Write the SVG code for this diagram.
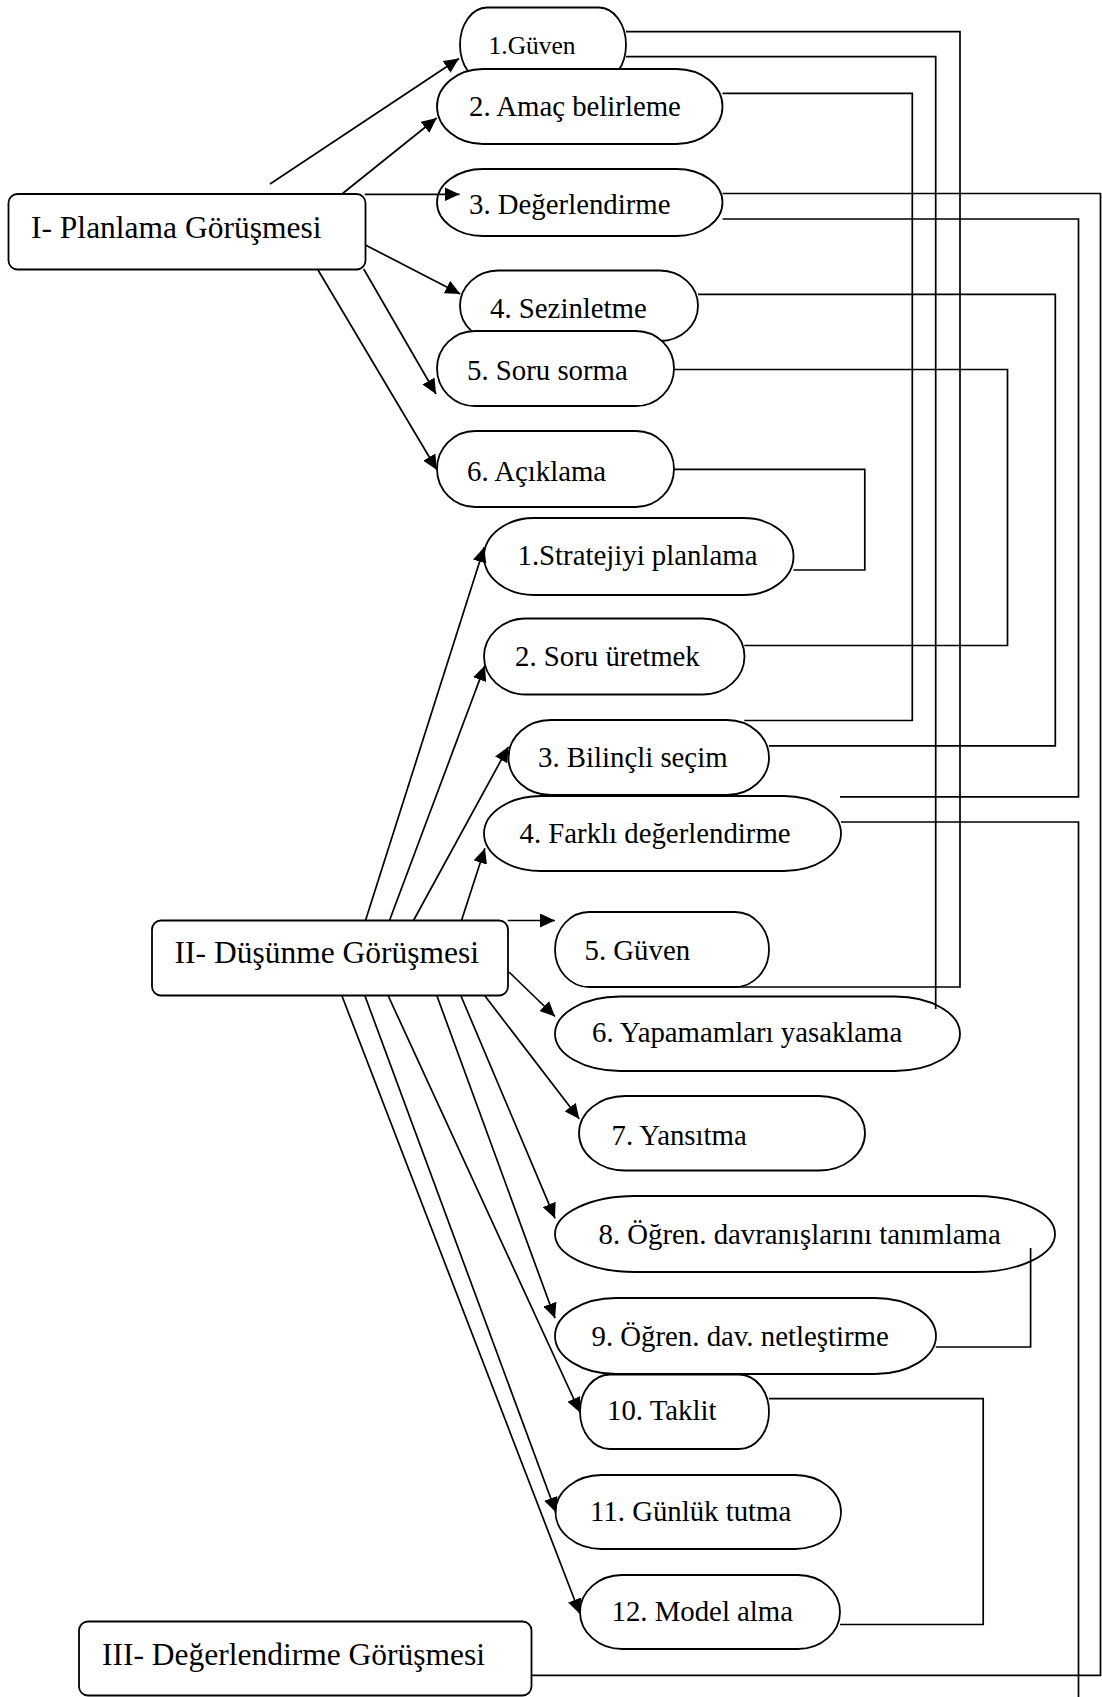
<svg xmlns="http://www.w3.org/2000/svg" width="1102" height="1697" viewBox="0 0 1102 1697">
  <defs>
    <style>
      .node { fill: #ffffff; stroke: #000000; stroke-width: 1.8; }
      .box { fill: #ffffff; stroke: #000000; stroke-width: 1.8; }
      .lbl { font-family: "Liberation Serif", "Times New Roman", serif; font-size: 28.8px; fill: #000000; }
      .big { font-family: "Liberation Serif", "Times New Roman", serif; font-size: 31.5px; fill: #000000; }
      .arrow { fill: none; stroke: #000000; stroke-width: 1.7; marker-end: url(#ah); }
      .link { fill: none; stroke: #000000; stroke-width: 1.7; }
    </style>
    <marker id="ah" viewBox="0 0 15 14" refX="15" refY="7" markerWidth="15" markerHeight="14" markerUnits="userSpaceOnUse" orient="auto">
      <path d="M0,0 L15,7 L0,14 z" fill="#000000"/>
    </marker>
  </defs>

  <rect x="0" y="0" width="1102" height="1697" fill="#ffffff"/>

  <!-- stage boxes -->
  <g id="planlama">
    <rect class="box" x="8.5" y="194" width="357" height="75.5" rx="9"/>
    <text class="big" x="31" y="237.5">I- Planlama Görüşmesi</text>
  </g>
  <g id="dusunme">
    <rect class="box" x="152" y="920.5" width="356" height="75" rx="9"/>
    <text class="big" x="174.6" y="962.5">II- Düşünme Görüşmesi</text>
  </g>
  <g id="degerlendirme">
    <rect class="box" x="79" y="1621.5" width="452.5" height="74" rx="9"/>
    <text class="big" x="102" y="1665">III- Değerlendirme Görüşmesi</text>
  </g>

  <!-- planning steps -->
  <g id="p1">
    <rect class="node" x="460" y="7.5" width="166" height="74.5" rx="27" ry="37.25"/>
    <text class="lbl" x="488.5" y="54" style="font-size:25.5px">1.Güven</text>
  </g>
  <g id="p2">
    <rect class="node" x="437" y="69" width="285.5" height="75" rx="46" ry="37.5"/>
    <text class="lbl" x="469" y="116">2. Amaç belirleme</text>
  </g>
  <g id="p3">
    <rect class="node" x="437" y="169" width="285.5" height="67" rx="46" ry="33.5"/>
    <text class="lbl" x="469" y="214">3. Değerlendirme</text>
  </g>
  <g id="p4">
    <rect class="node" x="460" y="270.5" width="238" height="70.5" rx="38" ry="35.25"/>
    <text class="lbl" x="490" y="318">4. Sezinletme</text>
  </g>
  <g id="p5">
    <rect class="node" x="437" y="331" width="237" height="75" rx="38" ry="37.5"/>
    <text class="lbl" x="467" y="379.5">5. Soru sorma</text>
  </g>
  <g id="p6">
    <rect class="node" x="437" y="431" width="237" height="76" rx="38" ry="38"/>
    <text class="lbl" x="467" y="481">6. Açıklama</text>
  </g>

  <!-- reflection steps -->
  <g id="d1">
    <rect class="node" x="484" y="518" width="309.5" height="77" rx="50" ry="38.5"/>
    <text class="lbl" x="517.5" y="564.5">1.Stratejiyi planlama</text>
  </g>
  <g id="d2">
    <rect class="node" x="484" y="618.5" width="260.5" height="76" rx="42" ry="38"/>
    <text class="lbl" x="515" y="665.5">2. Soru üretmek</text>
  </g>
  <g id="d3">
    <rect class="node" x="508.5" y="720" width="260.5" height="75" rx="42" ry="37.5"/>
    <text class="lbl" x="538" y="767">3. Bilinçli seçim</text>
  </g>
  <g id="d4">
    <rect class="node" x="484" y="796" width="357" height="75" rx="57" ry="37.5"/>
    <text class="lbl" x="519.5" y="842.5">4. Farklı değerlendirme</text>
  </g>
  <g id="d5">
    <rect class="node" x="555" y="912" width="214" height="75" rx="34" ry="37.5"/>
    <text class="lbl" x="584.5" y="959.5">5. Güven</text>
  </g>
  <g id="d6">
    <rect class="node" x="555" y="996.5" width="405" height="74.5" rx="65" ry="37.25"/>
    <text class="lbl" x="592" y="1042">6. Yapamamları yasaklama</text>
  </g>
  <g id="d7">
    <rect class="node" x="579" y="1096" width="286" height="74.5" rx="46" ry="37.25"/>
    <text class="lbl" x="611.5" y="1144.5">7. Yansıtma</text>
  </g>
  <g id="d8">
    <rect class="node" x="555" y="1196" width="500" height="76" rx="80" ry="38"/>
    <text class="lbl" x="598.5" y="1243.5">8. Öğren. davranışlarını tanımlama</text>
  </g>
  <g id="d9">
    <rect class="node" x="555" y="1298" width="381" height="76" rx="61" ry="38"/>
    <text class="lbl" x="591.5" y="1345.5">9. Öğren. dav. netleştirme</text>
  </g>
  <g id="d10">
    <rect class="node" x="580" y="1374.5" width="189" height="74.5" rx="30" ry="37.25"/>
    <text class="lbl" x="607" y="1419.5">10. Taklit</text>
  </g>
  <g id="d11">
    <rect class="node" x="555.5" y="1475" width="285.5" height="74" rx="46" ry="37"/>
    <text class="lbl" x="590" y="1520.5">11. Günlük tutma</text>
  </g>
  <g id="d12">
    <rect class="node" x="580" y="1575" width="260" height="74" rx="42" ry="37"/>
    <text class="lbl" x="611.5" y="1620.5">12. Model alma</text>
  </g>

  <!-- connectors -->
  <g id="connectors">
    <!-- from I- Planlama -->
    <line class="arrow" x1="270" y1="184" x2="459" y2="58.5"/>
    <line class="arrow" x1="342.6" y1="193.5" x2="436.7" y2="118"/>
    <line class="arrow" x1="364.7" y1="194.3" x2="459.5" y2="194.3"/>
    <line class="arrow" x1="365.4" y1="245" x2="460.3" y2="294"/>
    <line class="arrow" x1="363.7" y1="269" x2="436" y2="394"/>
    <line class="arrow" x1="318" y1="270" x2="437" y2="470"/>

    <!-- from II- Düşünme, upwards -->
    <line class="arrow" x1="365.5" y1="920.5" x2="484.2" y2="547.3"/>
    <line class="arrow" x1="389.5" y1="920.5" x2="484.9" y2="665.6"/>
    <line class="arrow" x1="413.5" y1="920.5" x2="508.4" y2="746.8"/>
    <line class="arrow" x1="461.5" y1="920.5" x2="484.9" y2="848.2"/>
    <line class="arrow" x1="507.7" y1="920.5" x2="555" y2="920.5"/>
    <line class="arrow" x1="509" y1="972" x2="555" y2="1016.5"/>

    <!-- from II- Düşünme, downwards -->
    <line class="arrow" x1="485" y1="996" x2="579.3" y2="1119"/>
    <line class="arrow" x1="461" y1="996" x2="555" y2="1218.3"/>
    <line class="arrow" x1="437" y1="996" x2="555" y2="1318.3"/>
    <line class="arrow" x1="388.3" y1="996" x2="580" y2="1412.5"/>
    <line class="arrow" x1="365" y1="996" x2="556" y2="1512.5"/>
    <line class="arrow" x1="342" y1="996" x2="580" y2="1614"/>

    <!-- orthogonal links between the two step lists -->
    <polyline class="link" points="626,31.7 960,31.7 960,987 723,987"/>
    <polyline class="link" points="626,56.7 935.7,56.7 935.7,1009"/>
    <polyline class="link" points="722.5,93.3 912.3,93.3 912.3,720.5 744.3,720.5"/>
    <polyline class="link" points="722.5,193.5 1100.5,193.5 1100.5,1675.3 531.5,1675.3"/>
    <polyline class="link" points="722.5,219 1078.5,219 1078.5,796.8 840,796.8"/>
    <polyline class="link" points="841,822 1078.5,822 1078.5,1697"/>
    <polyline class="link" points="698,294.3 1055.3,294.3 1055.3,745.8 769,745.8"/>
    <polyline class="link" points="674,369.5 1007.5,369.5 1007.5,645.5 744.3,645.5"/>
    <polyline class="link" points="674,469.3 864.8,469.3 864.8,570 793.4,570"/>
    <polyline class="link" points="1030.6,1248 1030.6,1347 935.7,1347"/>
    <polyline class="link" points="769,1398.6 983.2,1398.6 983.2,1624.5 840,1624.5"/>
  </g>
</svg>
